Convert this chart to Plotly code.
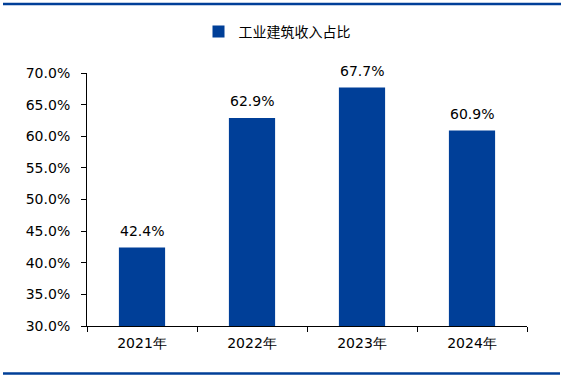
import plotly.graph_objects as go

categories = ["2021年", "2022年", "2023年", "2024年"]
values = [42.4, 62.9, 67.7, 60.9]
series_name = "工业建筑收入占比"
y_ticks = [30, 35, 40, 45, 50, 55, 60, 65, 70]

W, H = 564, 377
L, R, T, B = 87, 37, 73, 51
PW, PH = W - L - R, H - T - B
BLUE = "#003F98"
NUM_FONT = "DejaVu Sans, Verdana, sans-serif"

fig = go.Figure()
fig.add_trace(go.Bar(
    x=categories, y=values, name=series_name,
    marker=dict(color=BLUE, line=dict(width=0)),
    width=0.42,
))

for c, v in zip(categories, values):
    fig.add_annotation(x=c, y=v, text=f"{v:.1f}%", showarrow=False,
                       yanchor="middle", yshift=17,
                       font=dict(family=NUM_FONT, size=14, color="#000000"))


def px_x(p):
    return (p - L) / PW


def px_y(p):
    return 1 - (p - T) / PH


fig.update_layout(
    width=W, height=H,
    margin=dict(l=L, r=R, t=T, b=B),
    paper_bgcolor="white", plot_bgcolor="white",
    showlegend=True,
    legend=dict(orientation="h", x=277 / W, xanchor="center", xref="container",
                y=1 - 32 / H, yanchor="middle", yref="container",
                font=dict(family="Noto Sans CJK SC, sans-serif", size=14, color="#000000"),
                itemwidth=30),
    xaxis=dict(showline=True, linecolor="#000000", linewidth=1,
               ticks="outside", ticklen=5, tickcolor="#000000", tickson="boundaries",
               ticklabelstandoff=4,
               tickfont=dict(family=NUM_FONT, size=14, color="#000000"),
               showgrid=False, fixedrange=True),
    yaxis=dict(range=[30, 70], tickvals=y_ticks, ticktext=[f"{v:.1f}%" for v in y_ticks],
               showline=True, linecolor="#000000", linewidth=1,
               ticks="outside", ticklen=5, tickcolor="#000000",
               ticklabelstandoff=8,
               tickfont=dict(family=NUM_FONT, size=14, color="#000000"),
               showgrid=False, zeroline=False),
    shapes=[
        dict(type="line", xref="paper", yref="paper", x0=px_x(3), x1=px_x(561),
             y0=px_y(4), y1=px_y(4), line=dict(color=BLUE, width=2.5)),
        dict(type="line", xref="paper", yref="paper", x0=px_x(3), x1=px_x(560),
             y0=px_y(373.5), y1=px_y(373.5), line=dict(color=BLUE, width=2.5)),
    ],
)

fig.write_html("out.html",
               config={"displayModeBar": False},
               post_script="document.body.style.margin='0';document.body.style.overflow='hidden';")
